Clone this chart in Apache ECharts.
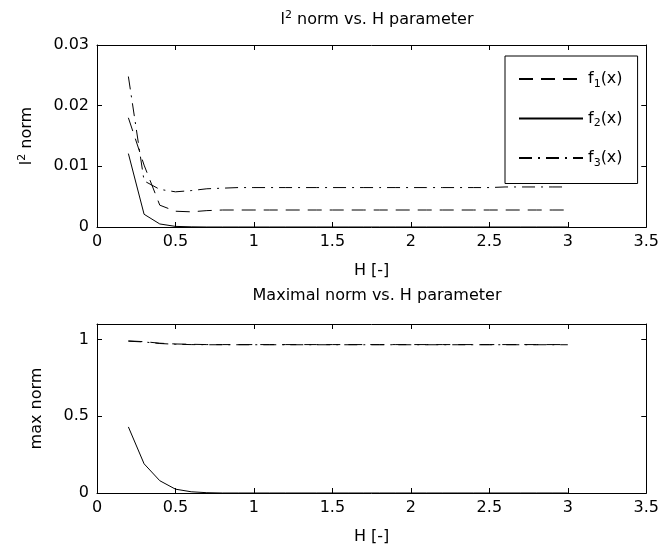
<!DOCTYPE html>
<html>
<head>
<meta charset="utf-8">
<script src="https://cdn.jsdelivr.net/npm/echarts@6/dist/echarts.min.js"></script>
<style>
  html, body { margin: 0; padding: 0; background: #fff; }
  #chart { width: 662px; height: 554px; }
</style>
</head>
<body>
<div id="chart"></div>
<script>
// H parameter sample points
const hValues = [0.2, 0.3, 0.4, 0.5, 0.6, 0.7, 0.8, 0.9, 1.0, 1.1, 1.2, 1.3, 1.4, 1.5,
  1.6, 1.7, 1.8, 1.9, 2.0, 2.1, 2.2, 2.3, 2.4, 2.5, 2.6, 2.7, 2.8, 2.9, 3.0];

// l2 norm of each function
const l2F1 = [0.0180, 0.0102, 0.0036, 0.0026, 0.0025, 0.0027, 0.0028, 0.0028, 0.0028, 0.0028,
  0.0028, 0.0028, 0.0028, 0.0028, 0.0028, 0.0028, 0.0028, 0.0028, 0.0028, 0.0028,
  0.0028, 0.0028, 0.0028, 0.0028, 0.0028, 0.0028, 0.0028, 0.0028, 0.0028];
const l2F2 = [0.0121, 0.0021, 0.0005, 0.0001, 0.00003, 0, 0, 0, 0, 0,
  0, 0, 0, 0, 0, 0, 0, 0, 0, 0,
  0, 0, 0, 0, 0, 0, 0, 0, 0];
const l2F3 = [0.0248, 0.0076, 0.0062, 0.0058, 0.0060, 0.0063, 0.0064, 0.0065, 0.0065, 0.0065,
  0.0065, 0.0065, 0.0065, 0.0065, 0.0065, 0.0065, 0.0065, 0.0065, 0.0065, 0.0065,
  0.0065, 0.0065, 0.0065, 0.0065, 0.0066, 0.0066, 0.0066, 0.0066, 0.0066];

// maximal norm of each function
const maxF1 = [0.990, 0.985, 0.975, 0.970, 0.968, 0.966, 0.966, 0.966, 0.966, 0.966,
  0.966, 0.966, 0.966, 0.966, 0.966, 0.966, 0.966, 0.966, 0.966, 0.966,
  0.966, 0.966, 0.966, 0.966, 0.966, 0.966, 0.966, 0.966, 0.966];
const maxF2 = [0.43, 0.19, 0.08, 0.025, 0.008, 0.002, 0, 0, 0, 0,
  0, 0, 0, 0, 0, 0, 0, 0, 0, 0,
  0, 0, 0, 0, 0, 0, 0, 0, 0];
const maxF3 = [0.988, 0.983, 0.973, 0.968, 0.966, 0.965, 0.965, 0.965, 0.965, 0.965,
  0.965, 0.965, 0.965, 0.965, 0.965, 0.965, 0.965, 0.965, 0.965, 0.965,
  0.965, 0.965, 0.965, 0.965, 0.965, 0.965, 0.965, 0.965, 0.965];

// tick labels
const xTickLabels = ['0', '0.5', '1', '1.5', '2', '2.5', '3', '3.5'];
const l2TickLabels = ['0', '0.01', '0.02', '0.03'];
const maxTickLabels = ['0', '0.5', '1'];

const seriesNames = ['f1', 'f2', 'f3'];
const seriesSubs = { f1: '1', f2: '2', f3: '3' };

const FONT = 'DejaVu Sans';
const FS = 16;
const SMALL = 11;
const INK = '#000';
const dashStyles = { f1: [14, 8], f2: 'solid', f3: [13, 6, 2, 6] };

const pairs = (xs, ys) => xs.map((x, i) => [x, ys[i]]);

function xAxisPair(gridIndex) {
  const common = {
    type: 'value', gridIndex, min: 0, max: 3.5, interval: 0.5,
    axisLine: { show: true, onZero: false, lineStyle: { color: INK, width: 1 } },
    axisTick: { show: true, inside: true, length: 5, lineStyle: { color: INK } },
    splitLine: { show: false }
  };
  return [
    Object.assign({}, common, {
      position: 'bottom',
      name: 'H [-]', nameLocation: 'middle', nameGap: 36,
      nameTextStyle: { color: INK, fontFamily: FONT, fontSize: FS },
      axisLabel: {
        color: INK, fontFamily: FONT, fontSize: FS, margin: 7,
        formatter: (v) => xTickLabels[Math.round(v / 0.5)] ?? ''
      }
    }),
    Object.assign({}, common, { position: 'top', axisLabel: { show: false } })
  ];
}

function yAxisPair(gridIndex, max, interval, labels, name, nameGap) {
  const common = {
    type: 'value', gridIndex, min: 0, max, interval,
    axisLine: { show: true, onZero: false, lineStyle: { color: INK, width: 1 } },
    axisTick: { show: true, inside: true, length: 5, lineStyle: { color: INK } },
    splitLine: { show: false }
  };
  return [
    Object.assign({}, common, {
      position: 'left',
      name, nameLocation: 'middle', nameGap,
      nameTextStyle: {
        color: INK, fontFamily: FONT, fontSize: FS,
        rich: {
          n: { fontFamily: FONT, fontSize: FS, color: INK },
          s: { fontFamily: FONT, fontSize: SMALL, color: INK, padding: [0, 0, 9, 0] }
        }
      },
      axisLabel: {
        color: INK, fontFamily: FONT, fontSize: FS, margin: 8, showMaxLabel: max !== 1.1,
        formatter: (v) => {
          const i = Math.round(v / interval);
          return Math.abs(i * interval - v) < 1e-9 ? (labels[i] ?? '') : '';
        }
      }
    }),
    Object.assign({}, common, { position: 'right', axisLabel: { show: false } })
  ];
}

function makeSeries(name, xIdx, yIdx, data) {
  return {
    name, type: 'line', xAxisIndex: xIdx, yAxisIndex: yIdx,
    data, symbol: 'none', showSymbol: false, smooth: false, animation: false,
    lineStyle: { color: INK, width: 1, type: dashStyles[name] },
    itemStyle: { color: INK }
  };
}

const chart = echarts.init(document.getElementById('chart'), null, { renderer: 'canvas' });

const titleRich = {
  n: { fontFamily: FONT, fontSize: FS, fontWeight: 'normal', color: INK },
  s: { fontFamily: FONT, fontSize: SMALL, fontWeight: 'normal', color: INK, padding: [0, 0, 9, 0] }
};

chart.setOption({
  backgroundColor: '#fff',
  animation: false,
  title: [
    {
      text: '{n|l}{s|2}{n| norm vs. H parameter}',
      left: 372, top: 5, textAlign: 'center',
      textStyle: { fontWeight: 'normal', rich: titleRich }
    },
    {
      text: '{n|Maximal norm vs. H parameter}',
      left: 372, top: 283, textAlign: 'center',
      textStyle: { fontWeight: 'normal', rich: titleRich }
    }
  ],
  legend: {
    data: seriesNames,
    orient: 'vertical',
    left: 505, top: 56,
    padding: [15, 15, 15, 13],
    itemWidth: 64, itemHeight: 14, itemGap: 21,
    borderColor: INK, borderWidth: 1,
    backgroundColor: '#fff',
    selectedMode: false,
    itemStyle: { opacity: 0 },
    formatter: (name) => '{n|f}{b|' + seriesSubs[name] + '}{n|(x)}',
    textStyle: {
      color: INK, fontFamily: FONT, fontSize: FS,
      rich: {
        n: { fontFamily: FONT, fontSize: FS, color: INK },
        b: { fontFamily: FONT, fontSize: SMALL, color: INK, padding: [10, 0, 0, 0] }
      }
    }
  },
  grid: [
    { left: 97, right: 15, top: 45, height: 182 },
    { left: 97, right: 15, top: 324, height: 169 }
  ],
  xAxis: [...xAxisPair(0), ...xAxisPair(1)],
  yAxis: [
    ...yAxisPair(0, 0.03, 0.01, l2TickLabels, '{n|l}{s|2}{n| norm}', 60),
    ...yAxisPair(1, 1.1, 0.5, maxTickLabels, 'max norm', 52)
  ],
  series: [
    makeSeries('f1', 0, 0, pairs(hValues, l2F1)),
    makeSeries('f2', 0, 0, pairs(hValues, l2F2)),
    makeSeries('f3', 0, 0, pairs(hValues, l2F3)),
    makeSeries('f1', 2, 2, pairs(hValues, maxF1)),
    makeSeries('f2', 2, 2, pairs(hValues, maxF2)),
    makeSeries('f3', 2, 2, pairs(hValues, maxF3))
  ]
});
</script>
</body>
</html>
